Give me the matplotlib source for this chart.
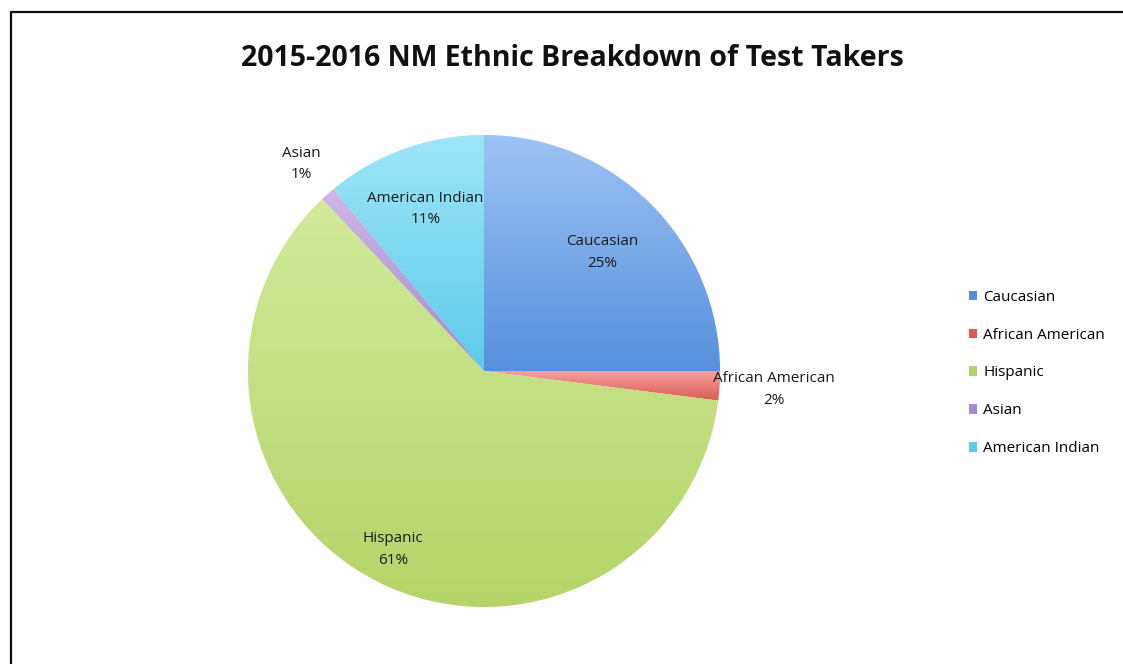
import matplotlib.pyplot as plt
import numpy as np
from matplotlib.colors import LinearSegmentedColormap, to_rgb
from matplotlib.patches import Rectangle

# data
groups = ["Caucasian", "African American", "Hispanic", "Asian", "American Indian"]
shares = [25, 2, 61, 1, 11]
colors_light = ["#9cc3f4", "#f4a09c", "#d2ea9a", "#cdb8e6", "#9ee6f8"]
colors_dark = ["#5690dc", "#dc5a55", "#b4d468", "#a68ad0", "#5ccbea"]
label_dist = [0.71, 1.23, 0.85, 1.17, 0.73]

plt.rcParams["font.family"] = ["Open Sans", "DejaVu Sans"]

W, H = 1123, 664
fig = plt.figure(figsize=(W / 100, H / 100), dpi=100)
fig.patch.set_facecolor("white")

# chart border (runs off the right / bottom edge like the screenshot)
fig.add_artist(Rectangle((11 / W, -0.05), 1.2, 1 - 12 / H + 0.05, transform=fig.transFigure,
                         fill=False, edgecolor="#111111", linewidth=1.6))

cx, cy, r = 484, 371, 236
ax = fig.add_axes([(cx - r) / W, (H - cy - r) / H, 2 * r / W, 2 * r / H])

wedges, _ = ax.pie(shares, startangle=90, counterclock=False, radius=1,
                   colors=colors_dark, wedgeprops={"linewidth": 0.6, "edgecolor": "white"})

# excel-ish vertical gradient fill clipped to each wedge
grad = np.linspace(1, 0, 256).reshape(-1, 1)
for w, lo, hi in zip(wedges, colors_dark, colors_light):
    cmap = LinearSegmentedColormap.from_list("g", [to_rgb(lo), to_rgb(hi)])
    path = w.get_path().transformed(w.get_patch_transform())
    x0, y0 = path.vertices.min(axis=0)
    x1, y1 = path.vertices.max(axis=0)
    im = ax.imshow(grad, cmap=cmap, extent=[x0, x1, y0, y1], aspect="auto", zorder=w.get_zorder() + 0.1)
    im.set_clip_path(w)

for w, name, val, d in zip(wedges, groups, shares, label_dist):
    ang = np.deg2rad((w.theta1 + w.theta2) / 2)
    ax.text(d * np.cos(ang), d * np.sin(ang), f"{name}\n{val}%", ha="center", va="center",
            fontsize=11, color="#1a1a1a", linespacing=1.6, zorder=5)

ax.set_xlim(-1, 1)
ax.set_ylim(-1, 1)
ax.axis("off")

fig.text(572 / W, 1 - 58 / H, "2015-2016 NM Ethnic Breakdown of Test Takers", ha="center", va="center",
         fontsize=20.5, fontweight="bold", color="#111111")

# legend
handles = [Rectangle((0, 0), 1, 1, facecolor=c, edgecolor="none") for c in colors_dark]
fig.legend(handles, groups, loc="center left", bbox_to_anchor=(955 / W, 1 - 373 / H), frameon=False,
           fontsize=11, handlelength=0.55, handleheight=0.55, handletextpad=0.4, labelspacing=1.5)

fig.savefig("out.png", dpi=100)
